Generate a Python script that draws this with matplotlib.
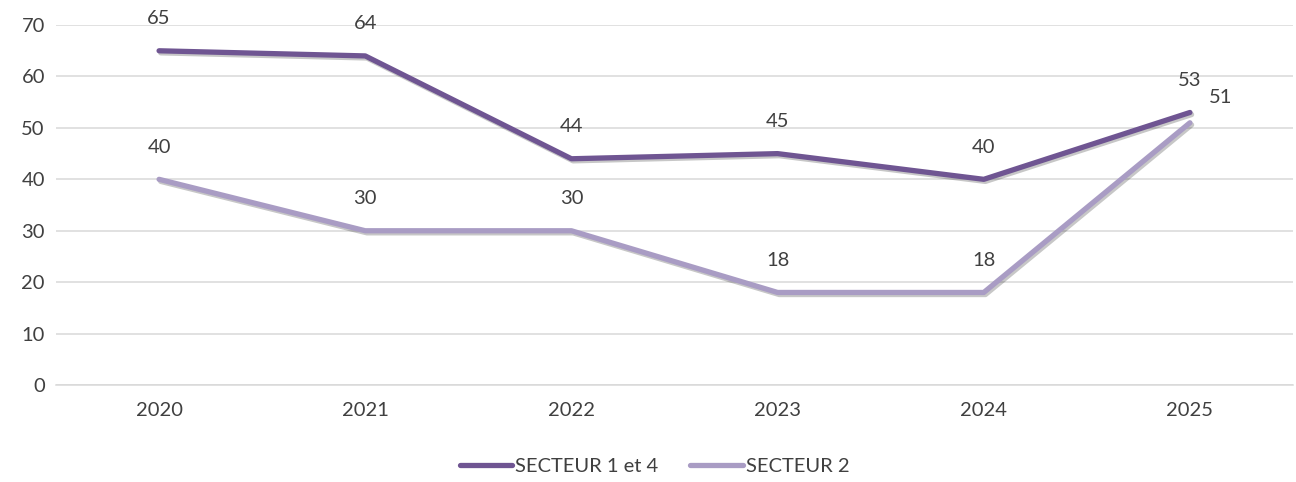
import matplotlib.pyplot as plt
import matplotlib.patheffects as pe

plt.rcParams['font.family'] = ['Lato', 'DejaVu Sans']

# ---------- 数据 ----------
annees = ['2020', '2021', '2022', '2023', '2024', '2025']
secteur_1_4 = [65, 64, 44, 45, 40, 53]
secteur_2 = [40, 30, 30, 18, 18, 51]

couleur_1 = '#6f5592'
couleur_2 = '#a99cc4'
gris_texte = '#404040'
taille = 14.5

fig = plt.figure(figsize=(12.96, 4.82), dpi=100)
ax = fig.add_axes([0.0432, 0.2012, 0.9545, 0.7468])

x = list(range(len(annees)))
ombre = [pe.SimpleLineShadow(offset=(1.2, -1.5), shadow_color='#000000', alpha=0.22),
         pe.Normal()]

ax.plot(x, secteur_2, color=couleur_2, lw=3.8, solid_capstyle='round',
        path_effects=ombre, label='SECTEUR 2', zorder=3)
ax.plot(x, secteur_1_4, color=couleur_1, lw=3.8, solid_capstyle='round',
        path_effects=ombre, label='SECTEUR 1 et 4', zorder=4)

# étiquettes de valeurs
for i, v in enumerate(secteur_1_4):
    ax.annotate(str(v), (i, v), xytext=(0, 23), textcoords='offset points',
                ha='center', va='center', fontsize=taille, color=gris_texte)
for i, v in enumerate(secteur_2):
    if i == len(secteur_2) - 1:
        ax.annotate(str(v), (i, v), xytext=(22, 18), textcoords='offset points',
                    ha='center', va='center', fontsize=taille, color=gris_texte)
    else:
        ax.annotate(str(v), (i, v), xytext=(0, 23), textcoords='offset points',
                    ha='center', va='center', fontsize=taille, color=gris_texte)

ax.set_xlim(-0.5, len(annees) - 0.5)
ax.set_ylim(0, 70)
ax.set_yticks(range(0, 71, 10))
ax.set_xticks(x)
ax.set_xticklabels(annees)
ax.tick_params(axis='both', length=0, labelsize=taille, labelcolor=gris_texte)
ax.tick_params(axis='y', pad=8)
ax.tick_params(axis='x', pad=12)

ax.grid(axis='y', color='#d9d9d9', lw=1.1)
ax.set_axisbelow(True)
for s in ['top', 'right', 'left']:
    ax.spines[s].set_visible(False)
ax.spines['bottom'].set_color('#d9d9d9')
ax.spines['bottom'].set_linewidth(1.1)

h, l = ax.get_legend_handles_labels()
leg = fig.legend(h[::-1], l[::-1], loc='center', bbox_to_anchor=(0.505, 0.033), ncol=2,
                 frameon=False, fontsize=taille, handlelength=2.6, handletextpad=0.15,
                 columnspacing=1.6)
for t in leg.get_texts():
    t.set_color(gris_texte)
for ln in leg.get_lines():
    ln.set_path_effects([])

fig.savefig('out.png', dpi=100)
